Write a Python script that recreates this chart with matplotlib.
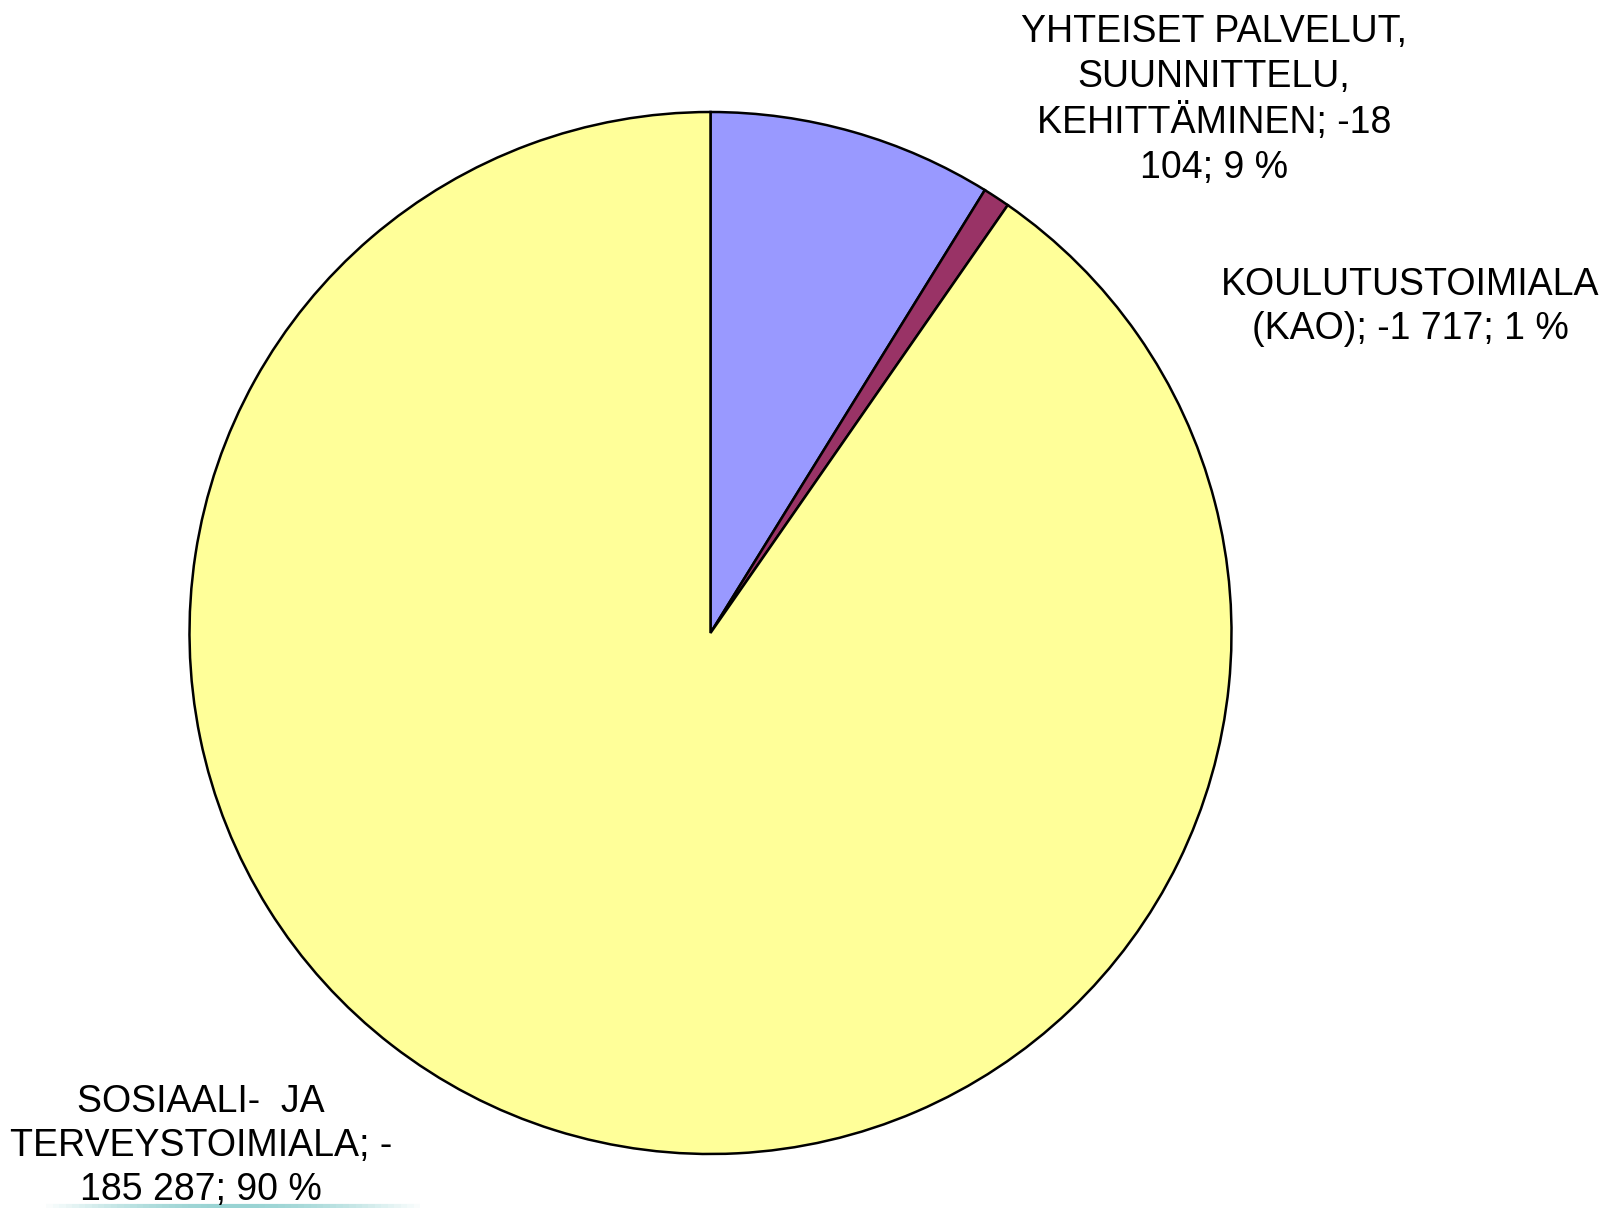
import matplotlib
matplotlib.use("Agg")
import matplotlib.pyplot as plt
import numpy as np

plt.rcParams['font.family'] = ['Liberation Sans', 'DejaVu Sans']

categories = ["YHTEISET PALVELUT,\nSUUNNITTELU,\nKEHITTÄMINEN; -18\n104; 9 %",
              "KOULUTUSTOIMIALA\n(KAO); -1 717; 1 %",
              "SOSIAALI-  JA\nTERVEYSTOIMIALA; -\n185 287; 90 %"]
values = [-18104, -1717, -185287]
colors = ["#9999FF", "#993366", "#FFFF99"]

W, H = 1603, 1208
fig = plt.figure(figsize=(W / 100, H / 100), dpi=100)
ax = fig.add_axes([0, 0, 1, 1])

ax.pie(np.abs(values), colors=colors, startangle=90, counterclock=False,
       center=(710.5, H - 633), radius=521,
       wedgeprops=dict(edgecolor="black", linewidth=1.8))
ax.set_xlim(0, W)
ax.set_ylim(0, H)
ax.set_aspect('equal')
ax.axis('off')

label_pos = [(1214, H - 100), (1410, H - 307), (201, H - 1146)]
for txt, (x, y) in zip(categories, label_pos):
    ax.text(x, y, txt, ha='center', va='center', fontsize=27,
            linespacing=1.3, color='black')

# faint teal line at bottom edge (slide artifact)
xs = np.linspace(40, 420, 60)
for i in range(len(xs) - 1):
    a = np.sin(np.pi * i / (len(xs) - 1))
    ax.plot(xs[i:i + 2], [H - 1205.5, H - 1205.5], color="#7fc8c8",
            alpha=0.8 * a, linewidth=3, solid_capstyle='butt')

fig.savefig("out.png", dpi=100)
